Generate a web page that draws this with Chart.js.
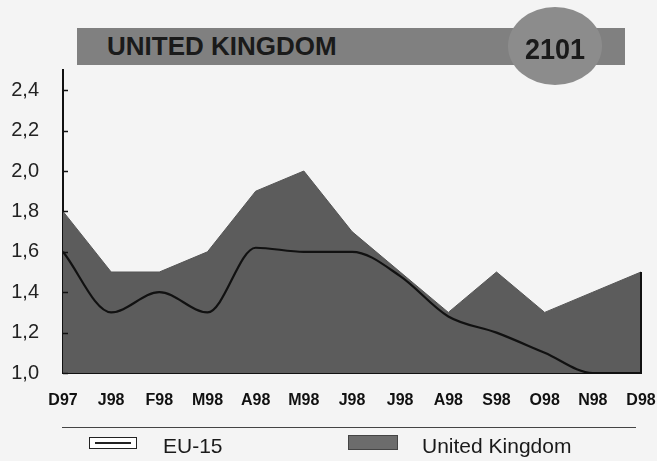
<!DOCTYPE html>
<html>
<head>
<meta charset="utf-8">
<script src="https://cdn.jsdelivr.net/npm/chart.js@4"></script>
<style>
  html, body { margin: 0; padding: 0; background: #f4f4f4; }
  #wrap { position: relative; width: 657px; height: 461px; overflow: hidden;
          font-family: "Liberation Sans", Arial, sans-serif; color: #1a1a1a; }
  #chart { position: absolute; left: 0; top: 0; }
  .banner { position: absolute; left: 77px; top: 28px; width: 548px; height: 37px; background: #808080; }
  .banner span { position: absolute; left: 30px; top: 0; line-height: 37px; font-size: 26px; font-weight: bold; }
  .badge { position: absolute; left: 508px; top: 7px; width: 94px; height: 78px; border-radius: 50%; background: #8c8c8c; }
  .badge span { position: absolute; left: 0; width: 94px; top: 25px; line-height: 34px; text-align: center;
                font-size: 30px; font-weight: bold; transform: scaleX(0.9); }
  .rule { position: absolute; left: 62px; top: 427px; width: 574px; height: 1px; background: #444; }
  .key { position: absolute; }
  .key-eu { left: 89px; top: 437px; width: 46px; height: 10px; background: #fff; border: 1.5px solid #222; }
  .key-eu::after { content: ''; position: absolute; left: 5px; right: 5px; top: 4px; height: 2px; background: #222; }
  .key-uk { left: 348px; top: 435px; width: 48px; height: 13px; background: #6c6c6c; border: 1px solid #444; }
  .label { position: absolute; top: 434px; line-height: 24px; font-size: 21px; }
</style>
</head>
<body>
<div id="wrap">
  <canvas id="chart" width="657" height="461"></canvas>
  <div class="banner"><span>UNITED KINGDOM</span></div>
  <div class="badge"><span>2101</span></div>
  <div class="rule"></div>
  <div class="key key-eu"></div>
  <div class="label" style="left:163px">EU-15</div>
  <div class="key key-uk"></div>
  <div class="label" style="left:422px">United Kingdom</div>
</div>
<script>
const months = ['D97', 'J98', 'F98', 'M98', 'A98', 'M98', 'J98', 'J98', 'A98', 'S98', 'O98', 'N98', 'D98'];
const ukValues = [1.8, 1.5, 1.5, 1.6, 1.9, 2.0, 1.7, 1.5, 1.3, 1.5, 1.3, 1.4, 1.5];
const euValues = [1.6, 1.3, 1.4, 1.3, 1.62, 1.6, 1.6, 1.48, 1.28, 1.2, 1.1, 1.0, 1.0];
const yTicks = [1.0, 1.2, 1.4, 1.6, 1.8, 2.0, 2.2, 2.4];

// short tick marks pointing into the plot, like the printed original
const innerTicks = {
    id: 'innerTicks',
    afterDraw(chart) {
        const { ctx, chartArea, scales } = chart;
        ctx.save();
        ctx.strokeStyle = '#111';
        ctx.lineWidth = 1.5;
        yTicks.forEach(v => {
            const y = Math.round(scales.y.getPixelForValue(v)) + 0.5;
            ctx.beginPath();
            ctx.moveTo(chartArea.left, y);
            ctx.lineTo(chartArea.left + 5, y);
            ctx.stroke();
        });
        // the filled area is closed off on the right
        const x = scales.x.getPixelForValue(months.length - 1);
        ctx.lineWidth = 2;
        ctx.beginPath();
        ctx.moveTo(x, scales.y.getPixelForValue(ukValues[ukValues.length - 1]));
        ctx.lineTo(x, chartArea.bottom);
        ctx.stroke();
        ctx.restore();
    }
};

new Chart(document.getElementById('chart').getContext('2d'), {
    type: 'line',
    data: {
        labels: months,
        datasets: [{
            label: 'EU-15',
            data: euValues,
            borderColor: '#111',
            borderWidth: 2.2,
            pointRadius: 0,
            fill: false,
            cubicInterpolationMode: 'monotone',
            order: 0
        }, {
            label: 'United Kingdom',
            data: ukValues,
            borderColor: '#555',
            borderWidth: 1,
            backgroundColor: '#5c5c5c',
            pointRadius: 0,
            tension: 0,
            fill: 'start',
            order: 1
        }]
    },
    options: {
        responsive: false,
        animation: false,
        layout: { padding: { top: 70, right: 16, left: 0, bottom: 0 } },
        scales: {
            x: {
                offset: false,
                grid: { display: true, drawOnChartArea: false, drawTicks: true, tickLength: 18, tickColor: 'rgba(0,0,0,0)' },
                border: { color: '#111', width: 2 },
                ticks: {
                    color: '#111',
                    padding: 0,
                    maxRotation: 0,
                    autoSkip: false,
                    font: { family: "'Liberation Sans', Arial, sans-serif", size: 16, weight: 'bold' }
                },
                afterFit: s => { s.height = 88; }
            },
            y: {
                min: 1.0,
                max: 2.5,
                grid: { display: false },
                border: { color: '#111', width: 2 },
                afterBuildTicks: s => { s.ticks = yTicks.map(v => ({ value: v })); },
                ticks: {
                    color: '#222',
                    padding: 16,
                    font: { family: "'Liberation Sans', Arial, sans-serif", size: 20 },
                    callback: v => v.toFixed(1).replace('.', ',')
                },
                afterFit: s => { s.width = 63; }
            }
        },
        plugins: {
            legend: { display: false },
            tooltip: { enabled: false }
        }
    },
    plugins: [innerTicks]
});
</script>
</body>
</html>
